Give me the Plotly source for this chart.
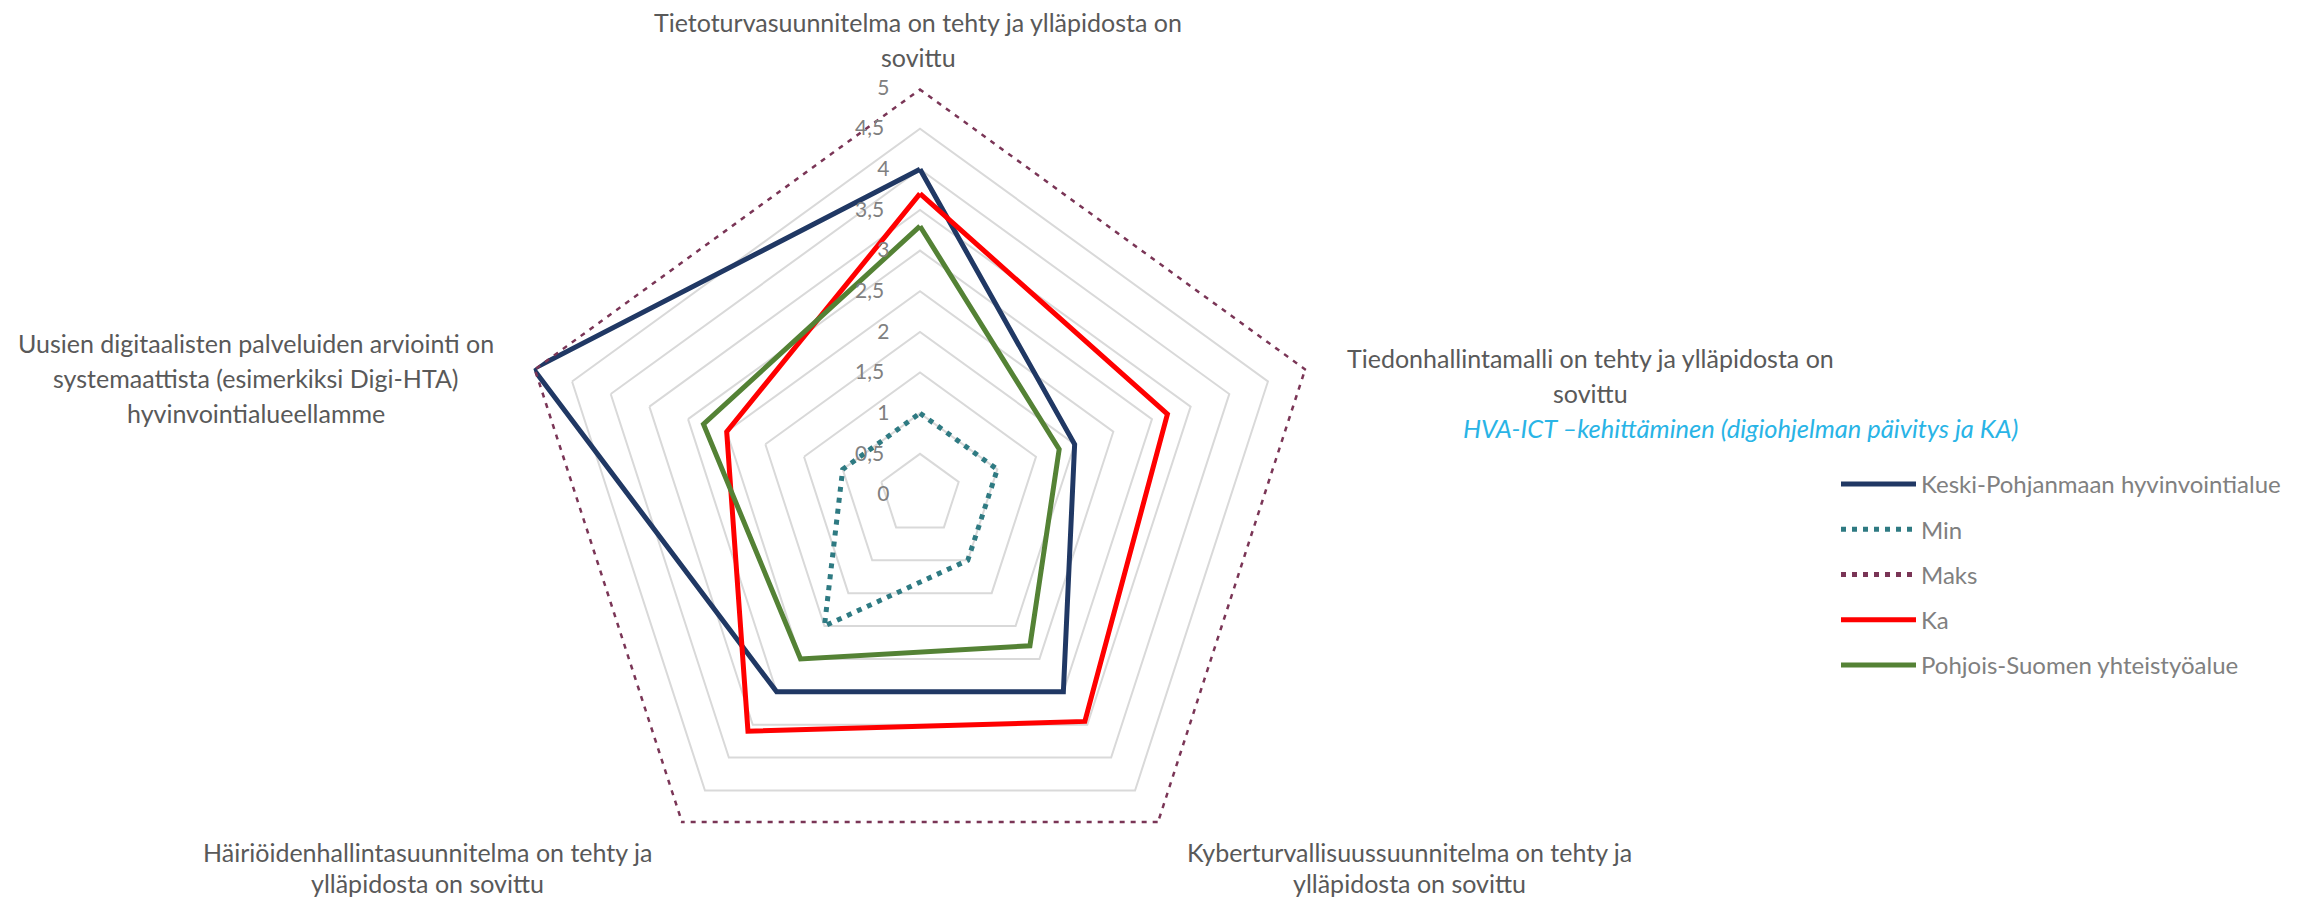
import plotly.graph_objects as go

# ---------------- data ----------------
categories = [
    "Tietoturvasuunnitelma on tehty ja ylläpidosta on<br>sovittu",
    "Tiedonhallintamalli on tehty ja ylläpidosta on<br>sovittu",
    "Kyberturvallisuussuunnitelma on tehty ja<br>ylläpidosta on sovittu",
    "Häiriöidenhallintasuunnitelma on tehty ja<br>ylläpidosta on sovittu",
    "Uusien digitaalisten palveluiden arviointi on<br>systemaattista (esimerkiksi Digi-HTA)<br>hyvinvointialueellamme",
]
series_names = ["Keski-Pohjanmaan hyvinvointialue", "Min", "Maks", "Ka",
                "Pohjois-Suomen yhteistyöalue"]
keski = [4.0, 2.0, 3.0, 3.0, 5.0]
min_vals = [1.0, 1.0, 1.0, 2.0, 1.0]
maks = [5.0, 5.0, 5.0, 5.0, 5.0]
ka = [3.7, 3.2, 3.45, 3.6, 2.5]
pohjois = [3.3, 1.8, 2.3, 2.5, 2.8]
radial_tickvals = [0, 0.5, 1, 1.5, 2, 2.5, 3, 3.5, 4, 4.5, 5]
radial_ticktext = ["0", "0,5", "1", "1,5", "2", "2,5", "3", "3,5", "4", "4,5", "5"]
note_text = "HVA-ICT –kehittäminen (digiohjelman päivitys ja KA)"

# ---------------- styling ----------------
W, H = 2320, 901
FONT = "Lato"
TICK_SIZE = 21
series_values = [keski, min_vals, maks, ka, pohjois]
series_colors = ["#203864", "#2E7A82", "#7A3556", "#FF0000", "#548235"]
series_dash = ["solid", "5px,6px", "5px,6px", "solid", "solid"]
series_width = [5, 5, 5, 5, 5]


def left_of_axis(label, size=TICK_SIZE, gap=22):
    """Pad a centred radial tick label with trailing no-break spaces so the
    visible text ends left of the (vertical) radial axis."""
    digit_w, comma_w, space_w = 0.58 * size, 0.22 * size, 0.57 * size
    w = sum(comma_w if ch == "," else digit_w for ch in label)
    n = int(round((w + 2 * gap) / space_w))
    return label + "\u00a0" * n


fig = go.Figure()
for name, vals, col, dash, w in zip(series_names, series_values, series_colors,
                                    series_dash, series_width):
    fig.add_trace(go.Scatterpolar(
        r=vals + vals[:1],
        theta=categories + categories[:1],
        mode="lines",
        name=name,
        legendgroup=name,
        line=dict(color=col, width=w, dash=dash),
        hoverinfo="skip",
    ))

# polar geometry (pixels)
cx, top_px = 920, 88
diam = H - top_px

fig.update_layout(
    width=W, height=H,
    margin=dict(l=0, r=0, t=0, b=0),
    paper_bgcolor="white",
    plot_bgcolor="white",
    font=dict(family=FONT, color="#595959"),
    polar=dict(
        domain=dict(x=[(cx - diam / 2) / W, (cx + diam / 2) / W],
                    y=[0, 1 - top_px / H]),
        bgcolor="white",
        gridshape="linear",
        radialaxis=dict(
            range=[0, 5], tickvals=radial_tickvals,
            ticktext=[left_of_axis(t) for t in radial_ticktext],
            angle=90, tickangle=90, side="counterclockwise",
            showline=False, ticks="", gridcolor="#D9D9D9", gridwidth=1.5,
            tickfont=dict(family=FONT, size=TICK_SIZE, color="#808080"),
        ),
        angularaxis=dict(
            type="category", rotation=90, direction="clockwise",
            showline=False, showgrid=False, ticks="", showticklabels=False,
        ),
    ),
    legend=dict(
        x=1836 / W, xanchor="left", y=1 - 462 / H, yanchor="top",
        font=dict(family=FONT, size=24, color="#808080"),
        itemwidth=75, tracegroupgap=11, traceorder="grouped",
        bgcolor="rgba(0,0,0,0)",
    ),
    showlegend=True,
)

# category labels (centre x, first-line y, line gap in pixels)
label_pos = [(918, 22, 35), (1590, 358, 35), (1409, 852, 31),
             (427, 852, 31), (256, 343, 35)]
for cat, (px, py, gap) in zip(categories, label_pos):
    for i, line in enumerate(cat.split("<br>")):
        fig.add_annotation(
            x=px / W, y=1 - (py + i * gap) / H, xref="paper", yref="paper",
            text=line, showarrow=False, xanchor="center", yanchor="middle",
            font=dict(family=FONT, size=25, color="#595959"),
        )

fig.add_annotation(
    x=1740 / W, y=1 - 428 / H, xref="paper", yref="paper",
    text="<i>" + note_text + "</i>", showarrow=False,
    xanchor="center", yanchor="middle",
    font=dict(family=FONT, size=25.5, color="#29B4E6"),
)

fig.write_html("out.html")
